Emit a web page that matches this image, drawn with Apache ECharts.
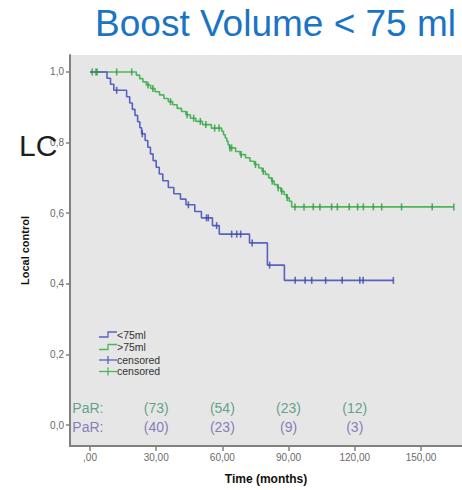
<!DOCTYPE html>
<html>
<head>
<meta charset="utf-8">
<script src="https://cdn.jsdelivr.net/npm/echarts@6/dist/echarts.min.js"></script>
<style>
  html, body { margin: 0; padding: 0; background: #ffffff; }
  #chart { width: 462px; height: 490px; }
</style>
</head>
<body>
<div id="chart"></div>
<script>
// Kaplan-Meier local control by boost volume
// Event times (months) and the survival estimate right after each event
const smallTimes = [0, 7.7, 9.3, 10.8, 16.6, 18.0, 19.2, 20.4, 21.6, 22.6, 23.4, 25.0, 26.2, 27.4, 28.6, 30.0, 31.4, 33.0, 35.5, 38.0, 41.0, 43.5, 47.5, 50.5, 55.5, 58.6, 72.3, 80.4, 88.1];
const smallSurv  = [1.0, 0.982, 0.965, 0.948, 0.930, 0.912, 0.894, 0.877, 0.859, 0.842, 0.825, 0.806, 0.787, 0.768, 0.749, 0.730, 0.711, 0.692, 0.673, 0.655, 0.640, 0.624, 0.605, 0.587, 0.565, 0.541, 0.516, 0.453, 0.410];
const smallEnd = 137.5;
const smallCensored = [12.1, 23.7, 44.6, 52.8, 53.6, 57.4, 64.2, 66.5, 68.3, 73.5, 81.4, 93.0, 97.5, 100.5, 106.8, 114.3, 122.3, 123.8, 137.5];

const largeTimes = [0, 21.0, 22.5, 24.0, 25.5, 27.5, 29.5, 31.5, 33.5, 35.5, 37.5, 39.5, 41.5, 43.5, 45.5, 48.0, 51.0, 55.0, 59.7, 60.5, 61.3, 62.0, 62.6, 63.2, 66.0, 68.0, 70.5, 72.5, 74.5, 76.5, 78.0, 79.5, 81.0, 82.3, 83.5, 85.0, 86.5, 88.0, 89.1, 90.3, 91.4];
const largeSurv  = [1.0, 0.991, 0.981, 0.972, 0.963, 0.953, 0.944, 0.935, 0.925, 0.916, 0.907, 0.897, 0.888, 0.879, 0.869, 0.860, 0.851, 0.841, 0.832, 0.822, 0.813, 0.804, 0.794, 0.785, 0.775, 0.766, 0.757, 0.747, 0.738, 0.728, 0.719, 0.710, 0.700, 0.691, 0.681, 0.672, 0.662, 0.653, 0.644, 0.634, 0.618];
const largeEnd = 164.9;
const largeCensored = [1.0, 2.7, 3.2, 12.1, 18.9, 26.3, 28.5, 36.5, 44.0, 47.0, 50.0, 52.5, 56.5, 58.5, 63.4, 64.2, 68.5, 75.0, 78.5, 82.6, 85.3, 86.9, 89.4, 92.9, 97.0, 101.2, 104.2, 109.5, 112.1, 117.5, 121.3, 123.9, 128.4, 132.2, 141.2, 155.1, 164.9];

// Patients at risk
const parTimes = [30, 60, 90, 120];
const parLarge = [73, 54, 23, 12];
const parSmall = [40, 23, 9, 3];

// Axis ticks
const xTicks = [0, 30, 60, 90, 120, 150];
const yTicks = [0, 0.2, 0.4, 0.6, 0.8, 1.0];

const BLUE = '#5862c0', BLUE_MARK = '#3c48aa';
const GREEN = '#4db65a', GREEN_MARK = '#2f9c40';
const PAR_GREEN = '#3e8f70', PAR_BLUE = '#6962ae';
const FONT = '"Liberation Sans", Arial, sans-serif';

function survAt(times, surv, t) {
  let s = surv[0];
  for (let i = 0; i < times.length; i++) { if (times[i] <= t) s = surv[i]; }
  return s;
}
function curve(times, surv, end) {
  const d = times.map((t, i) => [t, surv[i]]);
  d.push([end, surv[surv.length - 1]]);
  return d;
}
function marks(times, surv, cens) {
  return cens.map(t => [t, survAt(times, surv, t)]);
}
function parRow(counts, rowY, color) {
  const d = [{ value: [-8.0, rowY], label: { formatter: 'PaR:', align: 'left' } }];
  parTimes.forEach((t, i) => d.push({ value: [t, rowY], label: { formatter: '(' + counts[i] + ')' } }));
  return {
    type: 'scatter', symbolSize: 0, silent: true, z: 5,
    data: d,
    label: { show: true, position: 'inside', color: color, fontSize: 14, fontFamily: FONT, align: 'center', verticalAlign: 'middle' }
  };
}

const chart = echarts.init(document.getElementById('chart'), null, { renderer: 'svg' });

const option = {
  animation: false,
  backgroundColor: '#ffffff',
  title: {
    text: 'Boost Volume < 75 ml',
    right: 1, top: 0,
    textStyle: { color: '#1a74c6', fontSize: 37, fontWeight: 'normal', fontFamily: FONT }
  },
  grid: { left: 70, top: 55, right: 0, bottom: 43, show: true, backgroundColor: '#e6e6e6', borderWidth: 0 },
  xAxis: {
    type: 'value', min: -9.06, max: 168.6,
    name: 'Time (months)', nameLocation: 'middle', nameGap: 27,
    nameTextStyle: { color: '#111', fontSize: 12, fontWeight: 'bold', fontFamily: FONT },
    axisLine: { show: true, onZero: false, lineStyle: { color: '#808080', width: 2 } },
    axisTick: { show: true, customValues: xTicks, length: 5, lineStyle: { color: '#808080', width: 1.5 } },
    axisLabel: {
      customValues: xTicks, color: '#6a6a6a', fontSize: 10, fontFamily: FONT, margin: 6,
      formatter: v => v === 0 ? ',00' : v.toFixed(2).replace('.', ',')
    },
    splitLine: { show: false }
  },
  yAxis: {
    type: 'value', min: -0.059, max: 1.048,
    name: 'Local control', nameLocation: 'middle', nameGap: 40, nameRotate: 90,
    nameTextStyle: { color: '#111', fontSize: 11, fontWeight: 'bold', fontFamily: FONT },
    axisLine: { show: true, onZero: false, lineStyle: { color: '#808080', width: 2 } },
    axisTick: { show: true, customValues: yTicks, length: 4, lineStyle: { color: '#808080', width: 1.5 } },
    axisLabel: {
      customValues: yTicks, color: '#6a6a6a', fontSize: 10, fontFamily: FONT, margin: 6,
      formatter: v => v.toFixed(1).replace('.', ',')
    },
    splitLine: { show: false }
  },
  series: [
    { type: 'line', step: 'end', symbol: 'none', data: curve(largeTimes, largeSurv, largeEnd),
      lineStyle: { color: GREEN, width: 1.6 }, z: 3 },
    { type: 'line', step: 'end', symbol: 'none', data: curve(smallTimes, smallSurv, smallEnd),
      lineStyle: { color: BLUE, width: 1.6 }, z: 3 },
    { type: 'scatter', symbol: 'rect', symbolSize: [1.6, 7], data: marks(largeTimes, largeSurv, largeCensored),
      itemStyle: { color: GREEN_MARK }, z: 4 },
    { type: 'scatter', symbol: 'rect', symbolSize: [1.6, 7], data: marks(smallTimes, smallSurv, smallCensored),
      itemStyle: { color: BLUE_MARK }, z: 4 },
    parRow(parLarge, 0.048, PAR_GREEN),
    parRow(parSmall, -0.0065, PAR_BLUE)
  ],
  graphic: [
    // "LC" marker beside the y axis
    { type: 'text', left: 19, top: 130, z: 10,
      style: { text: 'LC', fontSize: 30, fontFamily: FONT, fill: '#1e1e1e' } },
    // legend: step icons
    { type: 'polyline', z: 10, shape: { points: [[99, 337], [108, 337], [108, 332], [117, 332]] },
      style: { stroke: BLUE, lineWidth: 1.3, fill: null } },
    { type: 'polyline', z: 10, shape: { points: [[99, 349.5], [108, 349.5], [108, 344.5], [117, 344.5]] },
      style: { stroke: GREEN, lineWidth: 1.3, fill: null } },
    // legend: censored icons
    { type: 'line', z: 10, shape: { x1: 99, y1: 360, x2: 117, y2: 360 }, style: { stroke: BLUE, lineWidth: 1.3 } },
    { type: 'line', z: 10, shape: { x1: 108, y1: 356, x2: 108, y2: 364 }, style: { stroke: BLUE, lineWidth: 1.3 } },
    { type: 'line', z: 10, shape: { x1: 99, y1: 371.5, x2: 117, y2: 371.5 }, style: { stroke: GREEN, lineWidth: 1.3 } },
    { type: 'line', z: 10, shape: { x1: 108, y1: 367.5, x2: 108, y2: 375.5 }, style: { stroke: GREEN, lineWidth: 1.3 } },
    // legend labels
    { type: 'text', left: 117, top: 329.5, z: 10, style: { text: '<75ml', fontSize: 10.5, fontFamily: FONT, fill: '#333' } },
    { type: 'text', left: 117, top: 341.5, z: 10, style: { text: '>75ml', fontSize: 10.5, fontFamily: FONT, fill: '#333' } },
    { type: 'text', left: 117, top: 354, z: 10, style: { text: 'censored', fontSize: 10.5, fontFamily: FONT, fill: '#333' } },
    { type: 'text', left: 117, top: 365.5, z: 10, style: { text: 'censored', fontSize: 10.5, fontFamily: FONT, fill: '#333' } }
  ]
};

chart.setOption(option);
</script>
</body>
</html>
